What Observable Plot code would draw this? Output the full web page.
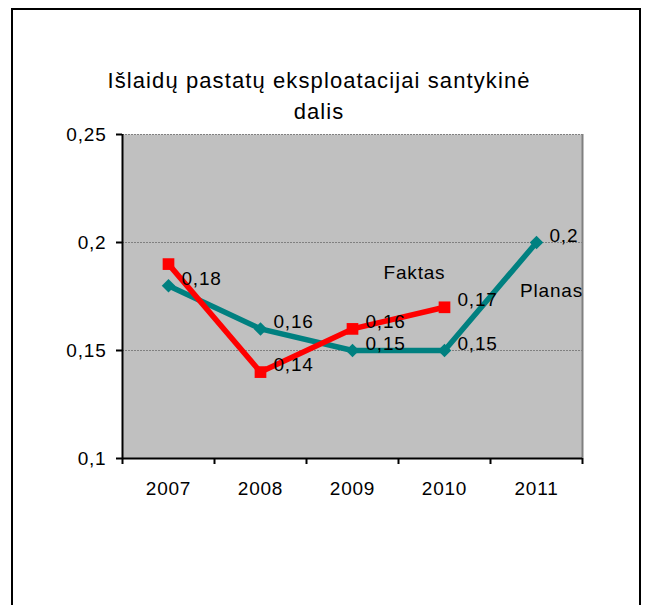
<!DOCTYPE html>
<html><head><meta charset="utf-8">
<script src="https://cdn.jsdelivr.net/npm/d3@7"></script>
<script src="https://cdn.jsdelivr.net/npm/@observablehq/plot@0.6"></script>
<style>
body{margin:0;background:#fff;}
#wrap{position:relative;width:648px;height:605px;overflow:hidden;font-family:"Liberation Sans",Arial,sans-serif;}
#frame{position:absolute;left:11px;top:8px;width:630px;height:640px;border:2.5px solid #000;box-sizing:border-box;}
#title{position:absolute;left:0;width:638px;top:65px;text-align:center;font-size:22px;line-height:31px;letter-spacing:1.1px;color:#000;}
#chart{position:absolute;left:0;top:0;}
#chart svg text{letter-spacing:0.8px;}
</style></head>
<body>
<div id="wrap">
  <div id="frame"></div>
  <div id="chart"></div>
  <div id="title">Išlaidų pastatų eksploatacijai santykinė<br>dalis</div>
</div>
<script>
const years = [2007, 2008, 2009, 2010, 2011];
const planas = [0.18, 0.16, 0.15, 0.15, 0.20];
const faktasYears = [2007, 2008, 2009, 2010];
const faktas = [0.19, 0.14, 0.16, 0.17];
const faktasLabeled = [false, true, true, true];
const yTicks = [0.1, 0.15, 0.2, 0.25];
const gridTicks = [0.15, 0.2, 0.25];
const xBoundaries = [2006.5, 2007.5, 2008.5, 2009.5, 2010.5, 2011.5];
const seriesNames = {plan: "Planas", fact: "Faktas"};

const fmt = d => String(d).replace(".", ",");
const plan = years.map((y, i) => ({year: y, value: planas[i]}));
const fact = faktasYears.map((y, i) => ({year: y, value: faktas[i], show: faktasLabeled[i]}));
const planLast = plan[plan.length - 1];
const factLast = fact[fact.length - 1];
const xMin = xBoundaries[0], xMax = xBoundaries[xBoundaries.length - 1];

const chart = Plot.plot({
  width: 648, height: 605,
  marginLeft: 122, marginRight: 66, marginTop: 134, marginBottom: 147,
  x: {domain: [xMin, xMax]},
  y: {domain: [yTicks[0], yTicks[yTicks.length - 1]]},
  style: {fontFamily: "'Liberation Sans', Arial, sans-serif", fontSize: "19px", background: "transparent", color: "#000", overflow: "visible"},
  marks: [
    Plot.frame({fill: "#c0c0c0", stroke: null}),
    Plot.gridY(gridTicks, {stroke: "#808080", strokeOpacity: 1, strokeWidth: 1.2, strokeDasharray: "2,1"}),
    Plot.ruleX([xMax], {stroke: "#808080", strokeWidth: 2}),
    Plot.ruleX([xMin], {stroke: "#000", strokeWidth: 2}),
    Plot.ruleY([yTicks[0]], {stroke: "#000", strokeWidth: 2}),
    Plot.axisY(yTicks, {tickFormat: fmt, tickSize: 6, tickPadding: 10, strokeWidth: 2, stroke: "#000", label: null}),
    Plot.axisX(xBoundaries, {tickFormat: () => "", tickSize: 6, strokeWidth: 2, stroke: "#000", label: null}),
    Plot.axisX(years, {tickFormat: d => String(d), tickSize: 0, tickPadding: 23, label: null}),
    Plot.line(plan, {x: "year", y: "value", stroke: "#008080", strokeWidth: 5.5}),
    Plot.dot(plan, {x: "year", y: "value", symbol: "square", r: 5.4, rotate: 45, fill: "#008080", stroke: null}),
    Plot.line(fact, {x: "year", y: "value", stroke: "#ff0000", strokeWidth: 5.5}),
    Plot.dot(fact, {x: "year", y: "value", symbol: "square", r: 6.6, fill: "#ff0000", stroke: null}),
    Plot.text(plan, {x: "year", y: "value", text: d => fmt(d.value), textAnchor: "start", dx: 13, dy: -7, fill: "#000"}),
    Plot.text(fact.filter(d => d.show), {x: "year", y: "value", text: d => fmt(d.value), textAnchor: "start", dx: 13, dy: -7, fill: "#000"}),
    Plot.text([factLast], {x: "year", y: "value", text: () => seriesNames.fact, textAnchor: "middle", dx: -30, dy: -34, fill: "#000"}),
    Plot.text([planLast], {x: "year", y: "value", text: () => seriesNames.plan, textAnchor: "middle", dx: 15, dy: 48, fill: "#000"})
  ]
});
document.getElementById("chart").appendChild(chart);
</script>
</body></html>
